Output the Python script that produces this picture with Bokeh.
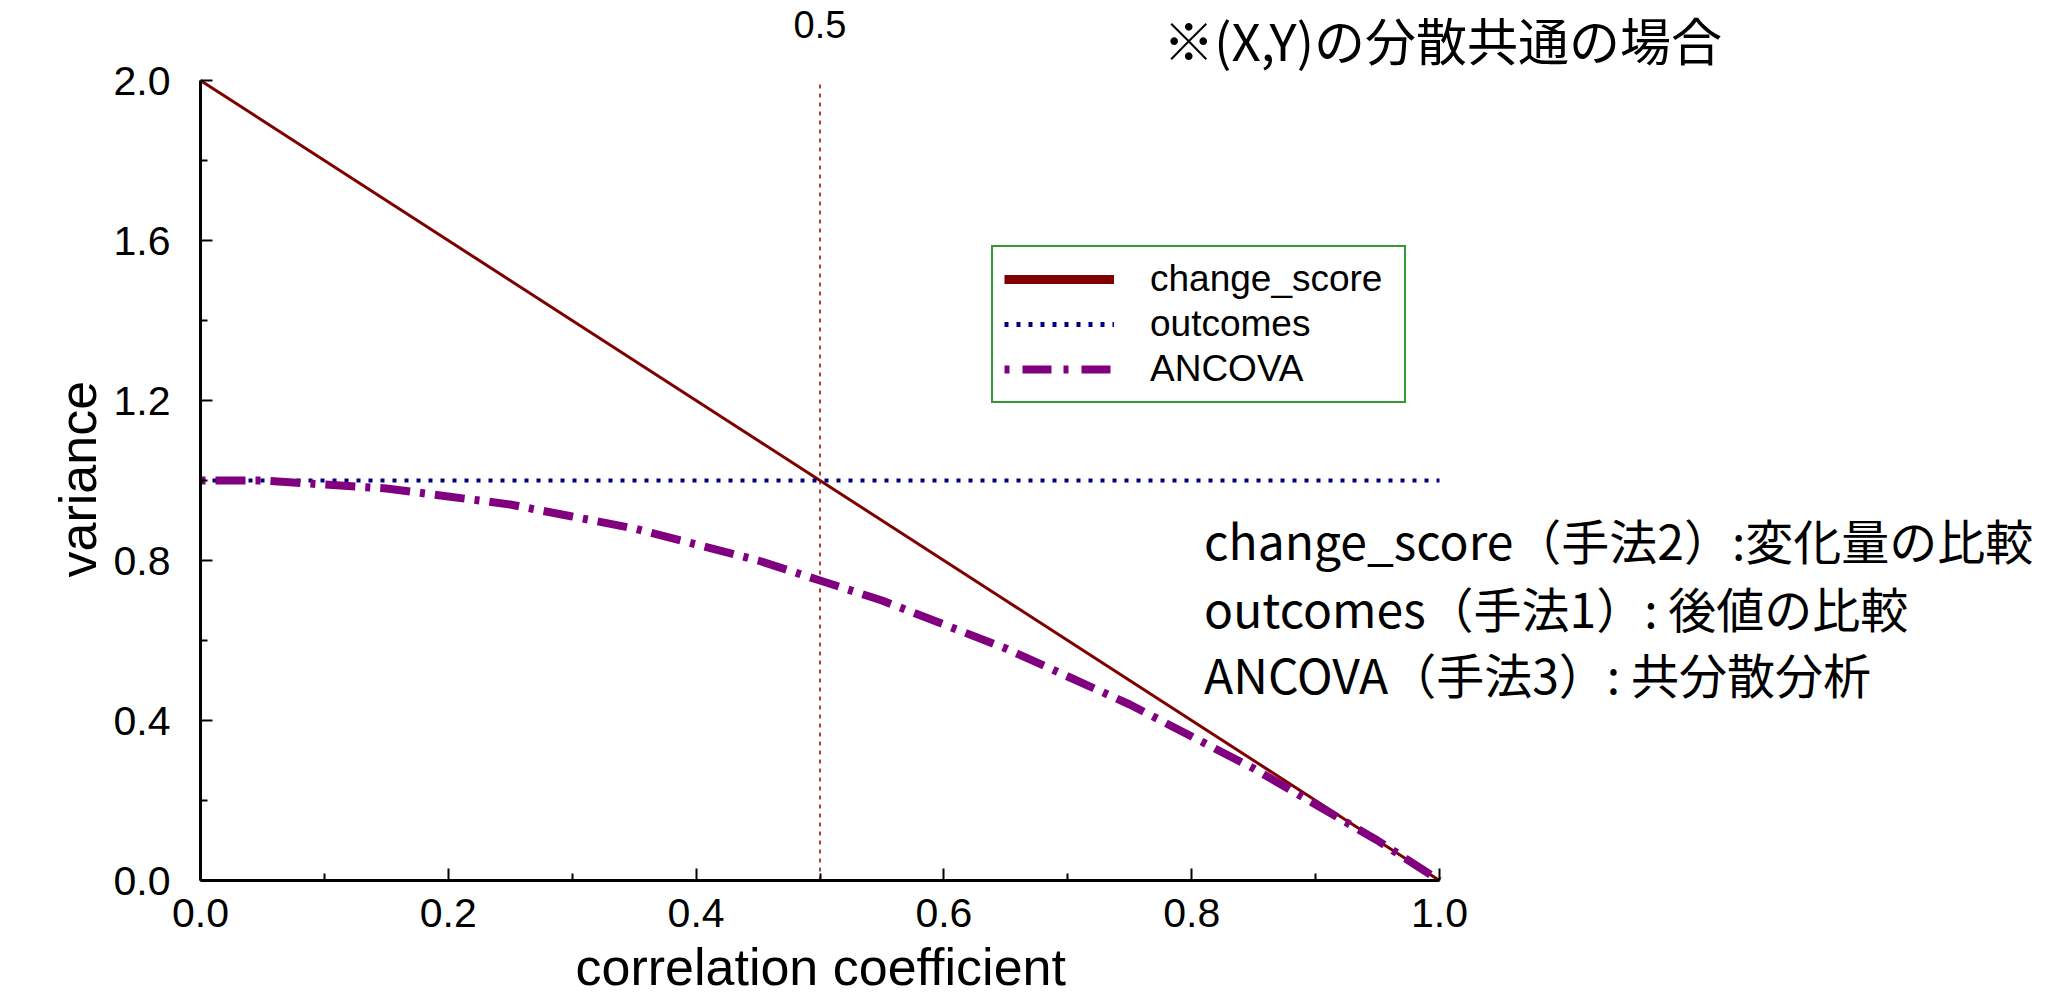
from bokeh.plotting import figure
from bokeh.models import (Range1d, Label, Legend, LegendItem, FixedTicker,
                          PrintfTickFormatter, Title)
from bokeh.embed import file_html
from bokeh.resources import INLINE

# ---- data ----
corr = [0.00, 0.05, 0.10, 0.15, 0.20, 0.25, 0.30, 0.35, 0.40, 0.45, 0.50,
        0.55, 0.60, 0.65, 0.70, 0.75, 0.80, 0.85, 0.90, 0.95, 1.00]
change_score = [2.00, 1.90, 1.80, 1.70, 1.60, 1.50, 1.40, 1.30, 1.20, 1.10, 1.00,
                0.90, 0.80, 0.70, 0.60, 0.50, 0.40, 0.30, 0.20, 0.10, 0.00]
outcomes = [1.00, 1.00, 1.00, 1.00, 1.00, 1.00, 1.00, 1.00, 1.00, 1.00, 1.00,
            1.00, 1.00, 1.00, 1.00, 1.00, 1.00, 1.00, 1.00, 1.00, 1.00]
ancova = [1.00, 1.00, 0.99, 0.98, 0.96, 0.94, 0.91, 0.88, 0.84, 0.80, 0.75,
          0.70, 0.64, 0.58, 0.51, 0.44, 0.36, 0.28, 0.19, 0.10, 0.00]

x_major = [0.0, 0.2, 0.4, 0.6, 0.8, 1.0]
x_minor = [0.1, 0.3, 0.5, 0.7, 0.9]
y_major = [0.0, 0.4, 0.8, 1.2, 1.6, 2.0]
y_minor = [0.2, 0.6, 1.0, 1.4, 1.8]
marker_r = 0.5

series_names = ["change_score", "outcomes", "ANCOVA"]
x_title = "correlation coefficient"
y_title = "variance"
title_note = "※(X,Y)の分散共通の場合"
notes = ["change_score（手法2）:変化量の比較",
         "outcomes（手法1）: 後値の比較",
         "ANCOVA（手法3）: 共分散分析"]

FONT = "Liberation Sans"
CJK = "Noto Sans CJK JP"

# layout in pixels: the frame spans the whole area right of / above the axes,
# the axes themselves are bounded to the data extent.
PX_X = 1239.0     # pixels per unit of correlation
PX_Y = 400.0      # pixels per unit of variance
FRAME_W = 1840
FRAME_H = 880

p = figure(frame_width=FRAME_W, frame_height=FRAME_H,
           output_backend="svg", toolbar_location=None,
           x_range=Range1d(0, FRAME_W / PX_X), y_range=Range1d(0, FRAME_H / PX_Y),
           min_border_left=200, min_border_right=0,
           min_border_top=0, min_border_bottom=60)
p.outline_line_color = None
p.grid.visible = False
p.background_fill_color = "white"
p.border_fill_color = "white"

for ax, major, minor in ((p.xaxis[0], x_major, x_minor), (p.yaxis[0], y_major, y_minor)):
    ax.ticker = FixedTicker(ticks=major, minor_ticks=minor)
    ax.bounds = (major[0], major[-1])
    ax.formatter = PrintfTickFormatter(format="%.1f")
    ax.axis_line_width = 3
    ax.axis_line_color = "black"
    ax.major_tick_in = 12
    ax.major_tick_out = 0
    ax.minor_tick_in = 7
    ax.minor_tick_out = 0
    ax.major_tick_line_width = 2
    ax.minor_tick_line_width = 2
    ax.major_label_text_font = FONT
    ax.major_label_text_font_size = "41px"
    ax.major_label_text_color = "black"

p.xaxis.major_label_standoff = 18
p.yaxis.major_label_standoff = 30

# axis titles (positioned over the bounded axes, not the whole frame)
p.add_layout(Title(text=x_title, align="left", offset=375, standoff=12,
                   text_font=FONT, text_font_size="52px", text_font_style="normal",
                   text_color="black"), "below")
p.add_layout(Title(text=y_title, align="left", offset=303, standoff=8,
                   text_font=FONT, text_font_size="52px", text_font_style="normal",
                   text_color="black"), "left")

# vertical reference line at r = 0.5 (from bottom to top of the axis)
p.segment(x0=[marker_r], y0=[y_major[0]], x1=[marker_r], y1=[y_major[-1]],
          line_color="#990000", line_width=1.5, line_dash="4 5")
p.add_layout(Label(x=marker_r, y=2.14, text="0.5", text_align="center",
                   text_baseline="middle", text_font=FONT, text_font_size="38px",
                   text_color="black"))

# series
r1 = p.line(corr, change_score, line_color="#800000", line_width=3)
r2 = p.line(corr, outcomes, line_color="#000080", line_width=4, line_dash="4 8")
r3 = p.line(corr, ancova, line_color="#800080", line_width=8, line_dash="5 10 30 10")

# legend swatches (drawn thicker in the reference legend)
nan = float("nan")
l1 = p.line([nan, nan], [nan, nan], line_color="#800000", line_width=9)
l2 = p.line([nan, nan], [nan, nan], line_color="#000080", line_width=5, line_dash="4 8")
l3 = p.line([nan, nan], [nan, nan], line_color="#800080", line_width=8,
            line_dash="5 13 29 12")

legend = Legend(items=[LegendItem(label=series_names[0], renderers=[l1]),
                       LegendItem(label=series_names[1], renderers=[l2]),
                       LegendItem(label=series_names[2], renderers=[l3])],
                location=(791, 477), orientation="vertical",
                border_line_color="#339933", border_line_width=2,
                border_line_alpha=1.0,
                background_fill_color="white", background_fill_alpha=1.0,
                label_text_font=FONT, label_text_font_size="37px",
                label_text_color="black",
                glyph_width=110, glyph_height=30, label_height=30,
                label_width=243,
                label_standoff=36, spacing=3, padding=11, margin=0)
p.add_layout(legend, "center")

# annotations
p.add_layout(Label(x=0.777, y=2.105, text=title_note, text_align="left",
                   text_baseline="middle", text_font=CJK, text_font_size="51px",
                   text_color="black"))
for yy, t in zip([0.855, 0.683, 0.52], notes):
    p.add_layout(Label(x=0.810, y=yy, text=t, text_align="left",
                       text_baseline="middle", text_font=CJK, text_font_size="48px",
                       text_color="black"))

open("out.html", "w").write(file_html(p, INLINE))
